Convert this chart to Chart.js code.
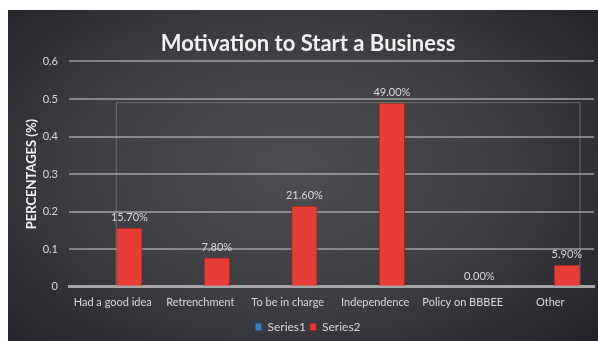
<!DOCTYPE html>
<html>
<head>
<meta charset="utf-8">
<script src="https://cdn.jsdelivr.net/npm/chart.js@4.4.1/dist/chart.umd.min.js"></script>
<style>
  html, body { margin: 0; padding: 0; background: #ffffff; }
  #wrap {
    position: absolute; left: 8px; top: 10px; width: 590px; height: 331px;
    background: radial-gradient(ellipse 75% 85% at 48% 48%, #4c4e52 0%, #3b3d41 50%, #25272c 85%, #1d1f25 100%);
  }
</style>
</head>
<body>
<div id="wrap"><canvas id="chart"></canvas></div>
<script>
// datos del gráfico
const categories = ['Had a good idea', 'Retrenchment', 'To be in charge', 'Independence', 'Policy on BBBEE', 'Other'];
const series1 = [0, 0, 0, 0, 0, 0];
const series2 = [0.157, 0.078, 0.216, 0.49, 0, 0.059];
const yTicks = [0, 0.1, 0.2, 0.3, 0.4, 0.5, 0.6];

const FONT = 'Lato, "Open Sans", sans-serif';
const labelColor = '#d9d9d9';

// etiquetas encima de las barras de Series2 + el recuadro fino
const barLabels = {
    id: 'barLabels',
    afterDatasetsDraw(chart) {
        const ctx = chart.ctx;
        const meta = chart.getDatasetMeta(1);
        const bars = meta.data;
        // recuadro que rodea las barras
        const first = bars[0], last = bars[bars.length - 1];
        const top = Math.min(...bars.map(b => b.y));
        const bottom = chart.scales.y.getPixelForValue(0);
        ctx.save();
        ctx.strokeStyle = 'rgba(200,200,200,0.35)';
        ctx.lineWidth = 1;
        ctx.beginPath();
        ctx.moveTo(first.x - first.width / 2, bottom);
        ctx.lineTo(first.x - first.width / 2, top);
        ctx.lineTo(last.x + last.width / 2, top);
        ctx.lineTo(last.x + last.width / 2, bottom);
        ctx.stroke();

        ctx.fillStyle = labelColor;
        ctx.font = '11px ' + FONT;
        ctx.textAlign = 'center';
        ctx.textBaseline = 'bottom';
        bars.forEach((bar, i) => {
            const txt = (series2[i] * 100).toFixed(2) + '%';
            ctx.fillText(txt, bar.x, bar.y - 5);
        });
        ctx.restore();
    }
};

new Chart(document.getElementById('chart'), {
    type: 'bar',
    data: {
        labels: categories,
        datasets: [
            {
                label: 'Series1',
                data: series1,
                backgroundColor: '#2f7fd0',
                borderWidth: 0
            },
            {
                label: 'Series2',
                data: series2,
                backgroundColor: '#e63e37',
                borderColor: '#a92621',
                borderWidth: 1
            }
        ]
    },
    options: {
        responsive: true,
        maintainAspectRatio: false,
        animation: false,
        categoryPercentage: 0.76,
        barPercentage: 0.79,
        layout: { padding: { left: 14, right: 4, top: 0, bottom: -2 } },
        plugins: {
            title: {
                display: true,
                text: 'Motivation to Start a Business',
                color: '#f2f2f2',
                font: { family: FONT, size: 22, weight: 'bold' },
                padding: { top: 21, bottom: 4 }
            },
            legend: {
                position: 'bottom',
                labels: {
                    color: labelColor,
                    font: { family: FONT, size: 12 },
                    boxWidth: 6,
                    boxHeight: 7,
                    padding: 4
                }
            },
            tooltip: { enabled: false }
        },
        scales: {
            x: {
                grid: { display: false },
                border: { color: '#a6a6a6', width: 3 },
                afterFit: (scale) => { scale.height += 7; },
                ticks: { color: labelColor, font: { family: FONT, size: 11 }, padding: 1 }
            },
            y: {
                min: 0,
                max: 0.6,
                afterBuildTicks: (scale) => { scale.ticks = yTicks.map(v => ({ value: v })); },
                afterFit: (scale) => { scale.width = 47; },
                grid: { color: 'rgba(185,185,185,0.6)', lineWidth: 2, drawTicks: false },
                border: { display: false },
                ticks: {
                    color: labelColor,
                    font: { family: FONT, size: 11 },
                    padding: 11,
                    callback: (v) => String(v)
                },
                title: {
                    display: true,
                    text: 'PERCENTAGES (%)',
                    color: '#f2f2f2',
                    font: { family: FONT, size: 13, weight: 'bold' },
                    padding: { top: 2, bottom: 2 }
                }
            }
        }
    },
    plugins: [barLabels]
});
</script>
</body>
</html>
